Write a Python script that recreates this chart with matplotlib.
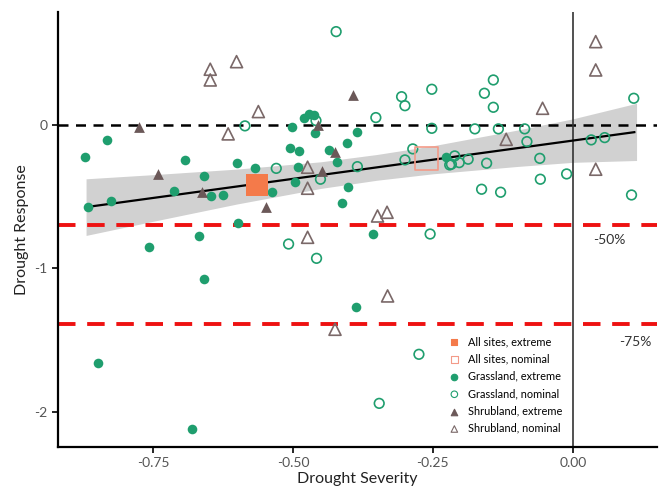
"""
Drought response vs drought severity, by site type and drought class.
"""

import matplotlib
matplotlib.use("Agg")
import matplotlib.pyplot as plt

# grassland sites, extreme drought (filled circles)
grass_ext_x = [-0.871, -0.832, -0.866, -0.825, -0.693, -0.601, -0.568, -0.660,
               -0.713, -0.647, -0.626, -0.598, -0.668, -0.758, -0.659, -0.848,
               -0.681, -0.538, -0.491, -0.496, -0.422, -0.401, -0.413, -0.357,
               -0.481, -0.472, -0.463, -0.461, -0.502, -0.505, -0.489, -0.435,
               -0.403, -0.386, -0.226, -0.387]
grass_ext_y = [-0.22, -0.10, -0.57, -0.53, -0.24, -0.265, -0.30, -0.35,
               -0.46, -0.49, -0.486, -0.68, -0.773, -0.848, -1.076, -1.66,
               -2.12, -0.463, -0.288, -0.397, -0.253, -0.428, -0.54, -0.759,
               0.055, 0.082, 0.07, -0.054, -0.008, -0.16, -0.178, -0.171,
               -0.12, -0.048, -0.218, -1.267]

# grassland sites, nominal drought (open circles)
grass_nom_x = [-0.423, -0.252, -0.306, -0.300, -0.352, -0.252, -0.459, -0.286,
               -0.300, -0.385, -0.530, -0.220, -0.586, -0.451, -0.508, -0.458,
               -0.255, -0.175, -0.158, -0.142, -0.142, -0.133, -0.086, -0.082,
               -0.059, -0.058, -0.011, 0.033, 0.057, 0.109, 0.105, -0.163,
               -0.129, -0.154, -0.187, -0.203, -0.217, -0.211, -0.275, -0.346]
grass_nom_y = [0.656, 0.253, 0.201, 0.138, 0.055, -0.02, 0.034, -0.164,
               -0.241, -0.288, -0.30, -0.276, -0.003, -0.376, -0.829, -0.929,
               -0.759, -0.024, 0.225, 0.318, 0.127, -0.024, -0.024, -0.113,
               -0.23, -0.376, -0.339, -0.101, -0.085, 0.19, -0.486, -0.446,
               -0.467, -0.264, -0.236, -0.26, -0.271, -0.213, -1.60, -1.943]

# shrubland sites, extreme drought (filled triangles)
shrub_ext_x = [-0.775, -0.742, -0.663, -0.548, -0.392, -0.455, -0.425, -0.449]
shrub_ext_y = [-0.013, -0.34, -0.467, -0.568, 0.213, 0.003, -0.183, -0.316]

# shrubland sites, nominal drought (open triangles)
shrub_nom_x = [-0.648, -0.648, -0.601, -0.616, -0.562, -0.474, -0.474, -0.474,
               -0.349, -0.332, -0.331, -0.425, -0.119, -0.054, 0.041, 0.041,
               0.041]
shrub_nom_y = [0.393, 0.318, 0.446, -0.059, 0.097, -0.292, -0.439, -0.782,
               -0.633, -0.607, -1.192, -1.425, -0.097, 0.12, 0.586, 0.388,
               -0.306]

# all sites means
all_ext = (-0.565, -0.416)
all_nom = (-0.261, -0.23)

# regression line and its confidence band
fit_x = [-0.87, 0.11]
fit_y = [-0.571, -0.047]
band_x = [-0.87, -0.75, -0.60, -0.45, -0.35, -0.25, -0.10, 0.00, 0.114]
band_lo = [-0.769, -0.670, -0.549, -0.440, -0.383, -0.338, -0.287, -0.258, -0.245]
band_hi = [-0.373, -0.344, -0.305, -0.254, -0.203, -0.142, -0.033, 0.046, 0.155]

# reference lines: -50% and -75% of control
ref_levels = [-0.693, -1.386]
ref_labels = ["-50%", "-75%"]

green = "#1f9e6e"
brown = "#6b5858"
orange = "#f47a4a"

plt.rcParams["font.family"] = ["Lato", "DejaVu Sans"]

fig = plt.figure(figsize=(6.6, 4.95), dpi=100)
ax = fig.add_axes([0.088, 0.097, 0.907, 0.879])

# band and fit
ax.fill_between(band_x, band_lo, band_hi, color="#c9c9c9", alpha=0.85,
                linewidth=0, zorder=1)
ax.plot(fit_x, fit_y, color="black", lw=1.6, zorder=2)

# reference lines
ax.axhline(0, color="black", lw=1.8, ls=(0, (4, 3)), zorder=1.5)
for lev in ref_levels:
    ax.axhline(lev, color="#ee1111", lw=2.8, ls=(0, (4.5, 3)), zorder=1.5)
ax.axvline(0, color="#333333", lw=1.2, zorder=1.5)

# points
ax.scatter(all_ext[0], all_ext[1], marker="s", s=230, color=orange,
           linewidths=0, zorder=4, label="All sites, extreme")
ax.scatter(all_nom[0], all_nom[1], marker="s", s=270, facecolors="none",
           edgecolors="#f39a88", linewidths=1.2, zorder=4,
           label="All sites, nominal")
ax.scatter(grass_ext_x, grass_ext_y, s=48, color=green, linewidths=0,
           zorder=3, label="Grassland, extreme")
ax.scatter(grass_nom_x, grass_nom_y, s=48, facecolors="none",
           edgecolors=green, linewidths=1.2, zorder=3,
           label="Grassland, nominal")
ax.scatter(shrub_ext_x, shrub_ext_y, marker="^", s=60, color=brown,
           linewidths=0, zorder=3, label="Shrubland, extreme")
ax.scatter(shrub_nom_x, shrub_nom_y, marker="^", s=75, facecolors="none",
           edgecolors="#7a6868", linewidths=1.2, zorder=3,
           label="Shrubland, nominal")

# percent labels
ax.text(0.065, ref_levels[0] - 0.11, ref_labels[0], fontsize=10,
        color="#333333", ha="center", va="center")
ax.text(0.112, ref_levels[1] - 0.13, ref_labels[1], fontsize=10,
        color="#333333", ha="center", va="center")

ax.set_xlim(-0.92, 0.15)
ax.set_ylim(-2.248, 0.794)
ax.set_xticks([-0.75, -0.50, -0.25, 0.00])
ax.set_xticklabels(["-0.75", "-0.50", "-0.25", "0.00"])
ax.set_yticks([-2, -1, 0])
ax.set_yticklabels(["-2", "-1", "0"])
ax.tick_params(colors="#555555", labelsize=10, length=4, width=1.2)
ax.tick_params(axis="both", color="black")

for side in ["top", "right"]:
    ax.spines[side].set_visible(False)
for side in ["left", "bottom"]:
    ax.spines[side].set_linewidth(1.6)

ax.set_xlabel("Drought Severity", fontsize=11.5, color="#222222", labelpad=2)
ax.set_ylabel("Drought Response", fontsize=11.5, color="#222222", labelpad=4)

leg = ax.legend(loc="lower left", bbox_to_anchor=(0.64, 0.015), frameon=False,
                fontsize=7.9, handletextpad=0.6, handlelength=1.2,
                labelspacing=0.58, borderaxespad=0.2)
# keep all legend symbols small and about the same size
for h in leg.legend_handles:
    h.set_sizes([22])
    h.set_linewidths([0.8])

fig.savefig("out.png", dpi=100)
